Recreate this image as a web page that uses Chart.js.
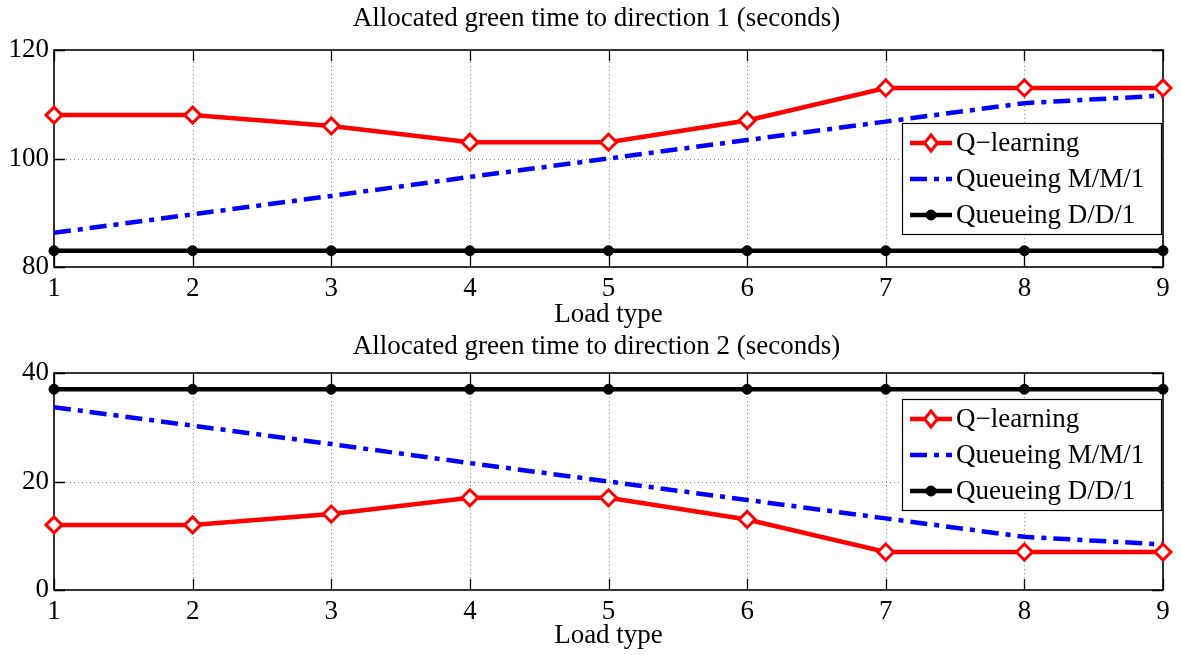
<!DOCTYPE html>
<html>
<head>
<meta charset="utf-8">
<script src="https://cdn.jsdelivr.net/npm/chart.js@4.4.1/dist/chart.umd.min.js"></script>
<style>
  html, body { margin: 0; padding: 0; background: #fff; }
  body { width: 1181px; height: 655px; position: relative; overflow: hidden; }
  .panel { position: absolute; left: 0; width: 1181px; }
  #p1 { top: 0; height: 331px; }
  #p2 { top: 327px; height: 328px; }
</style>
</head>
<body>
<div class="panel" id="p1"><canvas id="chart1"></canvas></div>
<div class="panel" id="p2"><canvas id="chart2"></canvas></div>
<script>
// ==================== DATOS ====================
const loadTypes = ['1', '2', '3', '4', '5', '6', '7', '8', '9'];
const seriesNames = ['Q\u2212learning', 'Queueing M/M/1', 'Queueing D/D/1'];

const qDir1   = [108, 108, 106, 103, 103, 107, 113, 113, 113];
const mm1Dir1 = [86.3, 89.7, 93.1, 96.6, 100, 103.4, 106.8, 110.2, 111.6];
const dd1Dir1 = [83, 83, 83, 83, 83, 83, 83, 83, 83];

const qDir2   = [12, 12, 14, 17, 17, 13, 7, 7, 7];
const mm1Dir2 = [33.7, 30.3, 26.9, 23.4, 20, 16.6, 13.2, 9.8, 8.4];
const dd1Dir2 = [37, 37, 37, 37, 37, 37, 37, 37, 37];

const yTicks1 = [80, 100, 120];
const yTicks2 = [0, 20, 40];

const FONT = 'Liberation Serif';
const FS = 27;

// ==================== PLUGIN: título ====================
const plotTitle = {
  id: 'plotTitle',
  afterDraw(chart, args, opts) {
    const { ctx } = chart;
    ctx.save();
    ctx.font = `${FS}px "${FONT}"`;
    ctx.fillStyle = '#000';
    ctx.textAlign = 'center';
    ctx.textBaseline = 'middle';
    ctx.fillText(opts.text, chart.width / 2 + 6, opts.y);
    ctx.restore();
  }
};

// ==================== PLUGIN: caja, rejilla y ticks estilo MATLAB ====================
const matlabAxes = {
  id: 'matlabAxes',
  beforeDatasetsDraw(chart) {
    const { ctx, chartArea: a, scales: { x, y } } = chart;
    ctx.save();
    // rejilla punteada
    ctx.strokeStyle = '#8a8a8a';
    ctx.lineWidth = 1;
    ctx.setLineDash([1, 3]);
    x.ticks.forEach((t, i) => {
      const px = Math.round(x.getPixelForTick(i)) + 0.5;
      if (px <= a.left + 1 || px >= a.right - 1) return;
      ctx.beginPath(); ctx.moveTo(px, a.top); ctx.lineTo(px, a.bottom); ctx.stroke();
    });
    y.ticks.forEach(t => {
      const py = Math.round(y.getPixelForValue(t.value)) + 0.5;
      if (py <= a.top + 1 || py >= a.bottom - 1) return;
      ctx.beginPath(); ctx.moveTo(a.left, py); ctx.lineTo(a.right, py); ctx.stroke();
    });
    ctx.setLineDash([]);
    // ticks hacia dentro
    ctx.strokeStyle = '#000';
    ctx.lineWidth = 1.3;
    const tl = 11;
    x.ticks.forEach((t, i) => {
      const px = Math.round(x.getPixelForTick(i)) + 0.5;
      ctx.beginPath();
      ctx.moveTo(px, a.bottom); ctx.lineTo(px, a.bottom - tl);
      ctx.moveTo(px, a.top); ctx.lineTo(px, a.top + tl);
      ctx.stroke();
    });
    y.ticks.forEach(t => {
      const py = Math.round(y.getPixelForValue(t.value)) + 0.5;
      ctx.beginPath();
      ctx.moveTo(a.left, py); ctx.lineTo(a.left + tl, py);
      ctx.moveTo(a.right, py); ctx.lineTo(a.right - tl, py);
      ctx.stroke();
    });
    // caja
    ctx.lineWidth = 1.6;
    ctx.strokeRect(a.left, a.top, a.right - a.left, a.bottom - a.top);
    ctx.restore();
  }
};

// ==================== PLUGIN: leyenda dentro del área ====================
const boxLegend = {
  id: 'boxLegend',
  afterDatasetsDraw(chart, args, opts) {
    const { ctx, chartArea: a } = chart;
    const w = 259, h = 111;
    const bx = a.right - opts.right - w;
    const by = a.top + opts.top;
    ctx.save();
    ctx.fillStyle = '#fff';
    ctx.fillRect(bx, by, w, h);
    ctx.strokeStyle = '#000';
    ctx.lineWidth = 1.2;
    ctx.strokeRect(bx + 0.5, by + 0.5, w, h);
    ctx.font = `${FS}px "${FONT}"`;
    ctx.textBaseline = 'middle';
    chart.data.datasets.forEach((ds, i) => {
      const cy = by + 20 + i * 36;
      const x0 = bx + 8, x1 = bx + 50, xm = (x0 + x1) / 2;
      ctx.strokeStyle = ds.borderColor;
      ctx.lineWidth = ds.borderWidth;
      ctx.setLineDash(ds.borderDash || []);
      ctx.beginPath(); ctx.moveTo(x0, cy); ctx.lineTo(x1, cy); ctx.stroke();
      ctx.setLineDash([]);
      if (ds.pointRadius > 0) {
        ctx.lineWidth = ds.pointBorderWidth;
        ctx.strokeStyle = ds.pointBorderColor;
        ctx.fillStyle = ds.pointBackgroundColor;
        const r = ds.pointRadius;
        ctx.beginPath();
        if (ds.pointStyle === 'rectRot') {
          ctx.moveTo(xm, cy - r); ctx.lineTo(xm + r * 0.8, cy); ctx.lineTo(xm, cy + r); ctx.lineTo(xm - r * 0.8, cy); ctx.closePath();
        } else {
          ctx.arc(xm, cy, r, 0, Math.PI * 2);
        }
        ctx.fill(); ctx.stroke();
      }
      ctx.fillStyle = '#000';
      ctx.fillText(ds.label, bx + 54, cy + 1);
    });
    ctx.restore();
  }
};

// ==================== CONSTRUCCIÓN ====================
function makeDatasets(q, mm1, dd1) {
  return [
    {
      label: seriesNames[0], data: q,
      borderColor: '#ff0000', borderWidth: 4.5,
      pointStyle: 'rectRot', pointRadius: 8, pointBorderWidth: 3,
      pointBorderColor: '#ff0000', pointBackgroundColor: '#fff',
      pointHoverRadius: 8, clip: false, order: 1
    },
    {
      label: seriesNames[1], data: mm1,
      borderColor: '#0000ff', borderWidth: 4.5, borderDash: [17, 7, 5, 7],
      pointRadius: 0, pointHoverRadius: 0, clip: false, order: 2
    },
    {
      label: seriesNames[2], data: dd1,
      borderColor: '#000', borderWidth: 4.5,
      pointStyle: 'circle', pointRadius: 5, pointBorderWidth: 1,
      pointBorderColor: '#000', pointBackgroundColor: '#000',
      pointHoverRadius: 5, clip: false, order: 3
    }
  ];
}

function makeChart(id, title, q, mm1, dd1, yTicks, cfg) {
  return new Chart(document.getElementById(id), {
    type: 'line',
    data: { labels: loadTypes, datasets: makeDatasets(q, mm1, dd1) },
    options: {
      responsive: true,
      maintainAspectRatio: false,
      animation: false,
      tension: 0,
      layout: { padding: { left: 0, right: 18, top: cfg.topPad, bottom: 0 } },
      plugins: {
        legend: { display: false },
        tooltip: { enabled: false },
        title: { display: false },
        plotTitle: { text: title, y: cfg.titleY },
        boxLegend: { right: 2, top: cfg.legendTop }
      },
      scales: {
        x: {
          type: 'category', offset: false,
          grid: { display: false, drawTicks: false },
          border: { display: false },
          ticks: { color: '#000', padding: cfg.xTickPad, maxRotation: 0, font: { family: FONT, size: FS } },
          title: {
            display: true, text: 'Load type', color: '#000',
            font: { family: FONT, size: FS }, padding: cfg.xTitlePad
          },
          afterFit: s => { s.height = cfg.xHeight; }
        },
        y: {
          min: yTicks[0], max: yTicks[yTicks.length - 1],
          afterBuildTicks: s => { s.ticks = yTicks.map(v => ({ value: v })); },
          grid: { display: false, drawTicks: false },
          border: { display: false },
          ticks: { color: '#000', padding: 5, font: { family: FONT, size: FS } },
          afterFit: s => { s.width = 54; }
        }
      }
    },
    plugins: [matlabAxes, boxLegend, plotTitle]
  });
}

makeChart('chart1', 'Allocated green time to direction 1 (seconds)', qDir1, mm1Dir1, dd1Dir1, yTicks1, {
  topPad: 50, titleY: 19, xHeight: 64, xTickPad: 6, xTitlePad: { top: 0, bottom: 0 }, legendTop: 73
});
makeChart('chart2', 'Allocated green time to direction 2 (seconds)', qDir2, mm1Dir2, dd1Dir2, yTicks2, {
  topPad: 46, titleY: 20, xHeight: 65, xTickPad: 6, xTitlePad: { top: 0, bottom: 3 }, legendTop: 26
});
</script>
</body>
</html>
